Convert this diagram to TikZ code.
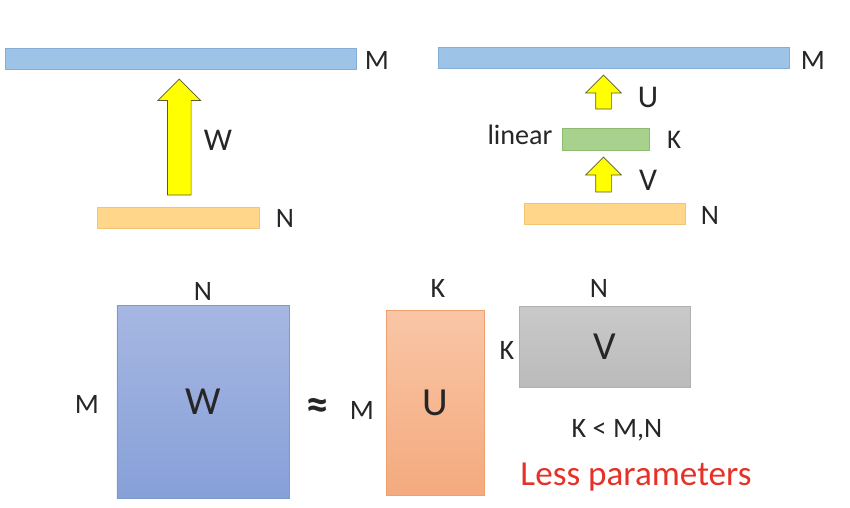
\documentclass[tikz,border=0pt]{standalone}
\usepackage{fontspec}
\setmainfont{Carlito}
\usetikzlibrary{shapes.arrows, positioning, calc}
\definecolor{outblue}{HTML}{9DC3E6}
\definecolor{outline}{HTML}{86ACD8}
\definecolor{ingold}{HTML}{FFD68A}
\definecolor{inline}{HTML}{F2C476}
\definecolor{midgreen}{HTML}{A9D18E}
\definecolor{midline}{HTML}{8DBB70}
\definecolor{flowyellow}{HTML}{FFFF00}
\definecolor{flowline}{HTML}{5A5A2A}
\definecolor{wtop}{HTML}{A6B7E2}
\definecolor{wbot}{HTML}{87A0D8}
\definecolor{wline}{HTML}{7D97D0}
\definecolor{utop}{HTML}{F9C6A6}
\definecolor{ubot}{HTML}{F4AA7E}
\definecolor{uline}{HTML}{EFA070}
\definecolor{vtop}{HTML}{C9C9C9}
\definecolor{vbot}{HTML}{BBBBBB}
\definecolor{vline}{HTML}{B0B0B0}
\definecolor{ink}{HTML}{262626}
\definecolor{warn}{HTML}{E53127}

\begin{document}
\begin{tikzpicture}[
    x=0.03cm, y=-0.03cm,
    bar/.style={rectangle, minimum height=0.63cm, inner sep=0pt, line width=0.5pt},
    outbar/.style={bar, draw=outline, fill=outblue},
    inbar/.style={bar, draw=inline, fill=ingold},
    midbar/.style={bar, draw=midline, fill=midgreen, minimum height=0.66cm},
    flow/.style={single arrow, rotate=90, draw=flowline, fill=flowyellow,
                 line width=0.6pt, single arrow tip angle=90, inner sep=0pt},
    matrixbox/.style={rectangle, inner sep=0pt, line width=0.5pt},
    dim/.style={font=\fontsize{24}{28}\selectfont, text=ink, inner sep=0pt},
    sym/.style={font=\fontsize{27}{32}\selectfont, text=ink, inner sep=0pt},
    big/.style={font=\fontsize{34}{40}\selectfont, text=ink, inner sep=0pt}
]
    \useasboundingbox (0,0) rectangle (850,507);

    % full layer
    \node[outbar, minimum width=10.53cm] (fullout) at (180.5,58.5) {};
    \node[inbar, minimum width=4.86cm] (fullin) at (178,217.5) {};
    \node[flow, minimum height=3.48cm, minimum width=1.26cm, inner ysep=0.345cm,
          single arrow head extend=0.285cm]
        (fullarrow) at ($(fullout.south)!0.5!(fullin.north)+(0,5)$) {};
    \node[dim] (fullM) at (377,60) {M};
    \node[dim] (fullN) at (285,218) {N};
    \node[sym] (fullW) at (218,140) {W};

    % low rank layers
    \node[outbar, minimum width=10.53cm] (lowout) at (613.5,57.5) {};
    \node[midbar, minimum width=2.61cm] (lowmid) at (605.5,139) {};
    \node[inbar, minimum width=4.83cm] (lowin) at (604.5,213.5) {};
    \node[flow, minimum height=1.02cm, minimum width=1.05cm, inner ysep=0.225cm,
          single arrow head extend=0.3cm] (arrowU) at (603.5,96) {};
    \node[flow, minimum height=1.05cm, minimum width=1.05cm, inner ysep=0.225cm,
          single arrow head extend=0.3cm] (arrowV) at (603.5,178.5) {};
    \node[dim] (lowM) at (813,60) {M};
    \node[dim] (lowlin) at (520,135) {linear};
    \node[dim, font=\fontsize{23}{27}\selectfont] (lowK) at (674,140) {K};
    \node[dim] (lowN) at (710,215) {N};
    \node[sym] (lowU) at (648,97) {U};
    \node[sym] (lowV) at (648,180) {V};

    % matrices
    \node[matrixbox, draw=wline, top color=wtop, bottom color=wbot,
          minimum width=5.16cm, minimum height=5.79cm] (matW) at (203,401.5) {};
    \node[matrixbox, draw=uline, top color=utop, bottom color=ubot,
          minimum width=2.94cm, minimum height=5.55cm] (matU) at (435,402.5) {};
    \node[matrixbox, draw=vline, top color=vtop, bottom color=vbot,
          minimum width=5.13cm, minimum height=2.43cm] (matV) at (604.5,346.5) {};
    \node[big] (matWsym) at (matW.center) {W};
    \node[big] (matUsym) at (matU.center) {U};
    \node[big] (matVsym) at (matV.center) {V};
    \node[dim] (matWN) at (203,291) {N};
    \node[dim] (matWM) at (87,404) {M};
    \node[dim, font=\fontsize{38}{44}\selectfont\bfseries] (approxsign) at (318,409) {≈};
    \node[dim] (matUM) at (362,410) {M};
    \node[dim] (matUK) at (438,288) {K};
    \node[dim] (matVN) at (599,288) {N};
    \node[dim] (matVK) at (507,350) {K};
    \node[dim] (rankrule) at (617,430) {K < M,N};
    \node[big, font=\fontsize{30}{36}\selectfont, text=warn] (fewer) at (636,477) {Less parameters};
\end{tikzpicture}
\end{document}
